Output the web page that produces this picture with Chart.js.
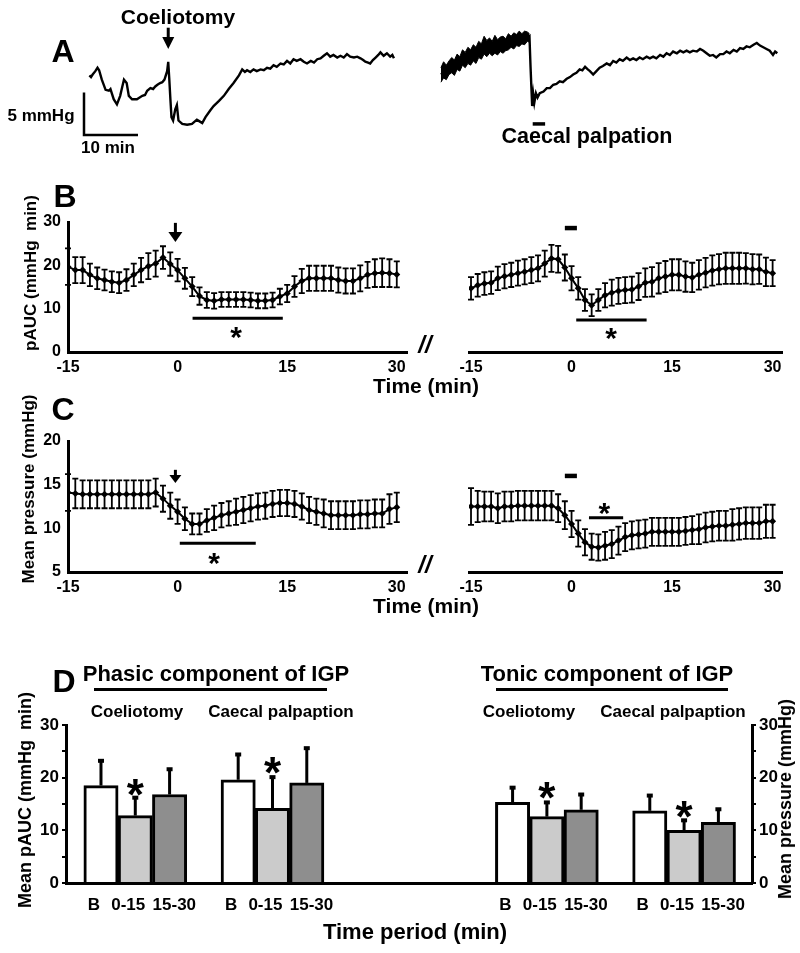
<!DOCTYPE html>
<html>
<head>
<meta charset="utf-8">
<script src="https://cdn.jsdelivr.net/npm/chart.js@4.4.1/dist/chart.umd.min.js"></script>
<style>
  body { margin:0; width:800px; height:953px; position:relative; overflow:hidden; background:#fff;
         font-family:"Liberation Sans", Arial, sans-serif; font-weight:bold; color:#000; }
  canvas { position:absolute; }
  .t { position:absolute; white-space:pre; line-height:1; transform:translate(-50%,-50%); }
  .r { position:absolute; white-space:pre; line-height:1; transform:translate(-50%,-50%) rotate(-90deg); }
  .u { position:absolute; height:3px; background:#000; }
</style>
</head>
<body>

<canvas id="cA"  width="800" height="160" style="left:0;top:0"></canvas>
<canvas id="cBL" width="415" height="230" style="left:0;top:170px"></canvas>
<canvas id="cBR" width="385" height="230" style="left:415px;top:170px"></canvas>
<canvas id="cCL" width="415" height="210" style="left:0;top:400px"></canvas>
<canvas id="cCR" width="385" height="210" style="left:415px;top:400px"></canvas>
<canvas id="cD"  width="800" height="353" style="left:0;top:600px"></canvas>

<!-- panel A -->
<div class="t" style="left:63px;top:51px;font-size:32px">A</div>
<div class="t" style="left:178px;top:16px;font-size:21px">Coeliotomy</div>
<div class="t" style="left:41px;top:115px;font-size:17px">5 mmHg</div>
<div class="t" style="left:108px;top:147px;font-size:17px">10 min</div>
<div class="t" style="left:587px;top:137px;font-size:21.5px">Caecal palpation</div>

<!-- panel B -->
<div class="t" style="left:65px;top:196px;font-size:32px">B</div>
<div class="r" style="left:30px;top:273px;font-size:17px">pAUC (mmHg  min)</div>
<div class="t" style="left:426px;top:385px;font-size:21px">Time (min)</div>
<div class="t" style="left:425px;top:345px;font-size:24px;font-style:italic">//</div>

<!-- panel C -->
<div class="t" style="left:63px;top:409px;font-size:32px">C</div>
<div class="r" style="left:28px;top:489px;font-size:17px">Mean pressure (mmHg)</div>
<div class="t" style="left:426px;top:605px;font-size:21px">Time (min)</div>
<div class="t" style="left:425px;top:565px;font-size:24px;font-style:italic">//</div>

<!-- panel D -->
<div class="t" style="left:64px;top:681px;font-size:32px">D</div>
<div class="t" style="left:216px;top:674px;font-size:22px">Phasic component of IGP</div>
<div class="t" style="left:607px;top:674px;font-size:22px">Tonic component of IGP</div>
<div class="u" style="left:94px;top:688px;width:233px"></div>
<div class="u" style="left:496px;top:688px;width:232px"></div>
<div class="t" style="left:137px;top:711px;font-size:17px">Coeliotomy</div>
<div class="t" style="left:281px;top:711px;font-size:17px">Caecal palpaption</div>
<div class="t" style="left:529px;top:711px;font-size:17px">Coeliotomy</div>
<div class="t" style="left:673px;top:711px;font-size:17px">Caecal palpaption</div>
<div class="r" style="left:25px;top:800px;font-size:18px">Mean pAUC (mmHg  min)</div>
<div class="r" style="left:785px;top:799px;font-size:18px">Mean pressure (mmHg)</div>
<div class="t" style="left:415px;top:932px;font-size:22px">Time period (min)</div>

<script>
// ---- A: raw intragastric pressure traces (time in min, pressure in mmHg above trace floor)
var traceCoelT = [0.0,0.3,0.6,1.1,1.5,1.8,2.3,3.0,3.6,3.9,4.5,5.1,5.7,6.1,6.4,6.9,7.3,7.9,8.8,9.8,10.3,10.7,11.3,11.8,12.2,12.6,13.1,13.5,13.9,14.4,14.6,14.8,15.0,15.2,15.5,15.9,16.2,16.5,17.2,18.1,19.0,19.9,20.4,20.9,21.5,22.4,23.0,24.0,24.9,25.8,26.7,27.7,28.3,28.8,29.2,29.8,30.4,31.0,31.7,32.3,32.9,33.5,34.1,34.7,35.4,36.0,36.6,37.2,37.8,38.4,39.1,39.7,40.3,41.0,41.6,42.2,42.8,43.4,44.0,44.6,45.2,45.9,46.5,47.1,47.7,48.3,49.0,49.6,50.2,50.7,51.1,51.6,52.0,52.5,53.0,53.5,53.9,54.5,55.1,55.7,56.1,56.4];
var traceCoelP = [7.0,6.8,7.1,7.5,7.9,7.6,6.5,5.3,5.2,5.4,4.2,3.6,4.6,5.7,6.5,6.1,4.6,4.2,4.2,4.6,4.7,5.2,5.5,5.4,5.7,5.9,6.1,6.2,6.5,7.5,8.6,6.5,4.2,2.1,1.7,3.0,3.5,1.7,1.3,1.2,1.3,1.8,1.6,1.4,2.1,2.9,3.4,4.0,4.6,5.4,6.1,7.0,7.7,7.4,7.6,7.4,7.7,7.5,7.7,7.6,7.9,7.8,8.2,8.0,8.4,8.3,8.7,8.4,8.9,8.7,8.9,8.6,8.4,8.7,8.5,8.9,9.0,9.3,9.6,9.2,9.4,9.1,9.3,9.1,9.5,9.2,9.1,9.2,9.0,8.8,8.6,8.5,8.4,8.8,9.1,9.4,9.7,9.3,9.6,9.2,9.4,9.0];
// noisy pre-palpation stretch of the second trace: upper and lower edges of the band
var caecBandT  = [0,0.5,1,1.5,2,2.5,3,3.5,4,4.5,5,5.5,6,6.5,7,7.5,8,8.5,9,9.5,10,10.5,11,11.5,12,12.5,13,13.5,14,14.5,15,15.5,16,16.4];
var caecBandHi = [7.9,8.6,8.2,8.7,9.1,8.8,9.5,9.2,10.0,9.7,10.3,10.0,10.6,10.3,11.0,10.7,11.6,11.1,11.4,11.0,11.7,11.2,11.5,11.6,11.3,11.9,11.6,12.0,11.8,12.2,11.9,12.2,12.1,11.9];
var caecBandLo = [6.2,6.7,6.5,7.1,7.3,7.0,7.7,7.5,8.2,7.9,8.4,8.2,8.7,8.4,9.1,8.9,9.5,9.2,9.6,9.3,9.6,9.4,9.8,9.6,9.9,10.0,10.3,10.1,10.5,10.4,10.7,10.6,11.0,10.9];
var traceCaecT = [0.0,2.0,4.0,6.0,8.0,10.0,12.0,14.0,16.0,16.4,16.6,16.9,17.1,17.3,17.6,17.9,18.3,19.0,19.6,20.2,20.8,21.4,22.0,22.6,23.3,23.9,24.5,25.1,25.7,26.2,26.7,27.2,27.6,28.2,28.8,29.4,30.0,30.7,31.3,31.9,32.5,33.1,33.7,34.4,35.0,35.6,36.2,36.8,37.4,38.1,38.7,39.3,39.9,40.6,41.2,41.8,42.4,43.0,43.7,44.3,44.9,45.5,46.1,46.7,47.4,48.0,48.6,49.2,49.8,50.4,51.0,51.7,52.3,52.9,53.5,54.2,54.8,55.4,56.0,56.6,57.2,57.9,58.5,59.1,59.7,60.3,60.9,61.5,61.9,62.3];
var traceCaecP = [7.1,8.0,8.9,9.6,10.4,10.5,10.7,11.1,11.4,11.6,8.0,3.4,4.8,3.8,4.9,4.4,4.9,5.1,5.5,5.5,5.9,6.0,6.3,6.2,6.6,6.8,7.1,7.3,7.7,7.6,8.0,7.7,7.5,7.1,7.5,7.9,8.1,8.4,8.2,8.7,8.5,8.9,8.7,9.1,8.8,9.0,8.8,9.1,8.9,9.2,9.0,9.2,9.0,9.4,9.2,9.6,9.4,9.8,9.6,9.9,9.7,9.9,9.7,9.9,9.8,10.1,9.9,9.6,9.3,9.4,9.1,9.5,9.5,9.8,9.6,10.0,9.8,10.2,10.1,10.4,10.3,10.6,10.8,10.5,10.3,10.1,9.9,9.4,9.8,9.6];
var scaleBarT = [-1, -1, 9];   // 10 min
var scaleBarP = [5, 0, 0];     // 5 mmHg

// ---- B and C: 1-min means with SEM
var minutes = [-15,-14,-13,-12,-11,-10,-9,-8,-7,-6,-5,-4,-3,-2,-1,0,1,2,3,4,5,6,7,8,9,10,11,12,13,14,15,16,17,18,19,20,21,22,23,24,25,26,27,28,29,30];
var timeTicks = [-15, 0, 15, 30];

var pAUCCoel    = [19.7,18.9,18.9,17.8,17.0,16.6,16.2,16.0,16.6,17.8,18.9,19.8,20.4,21.8,20.3,18.9,17.0,15.1,12.9,12.0,11.8,12.1,12.1,12.1,12.1,12.0,11.8,11.8,12.0,12.8,13.5,15.1,16.4,17.0,17.0,17.0,17.0,16.6,16.4,16.4,17.0,17.8,18.2,18.3,18.2,17.9];
var pAUCCoelSem = [4.2,3.0,3.0,2.6,2.5,2.4,2.4,2.4,2.5,2.6,2.8,3.0,3.0,2.6,2.7,2.6,2.4,2.2,2.0,1.8,1.8,1.7,1.7,1.7,1.7,1.7,1.7,1.7,1.7,1.8,2.0,2.4,2.8,2.9,2.9,2.9,2.9,2.9,2.9,2.9,3.0,3.0,3.2,3.3,3.2,3.0];
var pAUCCaec    = [14.7,15.4,15.8,16.0,17.0,17.5,17.8,18.2,18.5,18.9,19.3,20.4,21.6,21.4,19.5,17.0,14.7,12.0,10.8,12.0,13.1,13.7,14.1,14.3,14.4,15.1,16.0,16.2,17.0,17.4,17.8,17.8,17.4,17.2,17.8,18.3,18.8,19.1,19.3,19.3,19.3,19.3,19.1,19.1,18.5,18.2];
var pAUCCaecSem = [2.6,2.6,2.6,2.6,2.7,2.8,2.8,2.9,2.9,3.0,3.0,3.0,3.1,3.1,3.0,2.8,2.6,2.5,2.5,2.5,2.8,3.0,3.0,3.0,3.0,3.1,3.3,3.4,3.5,3.6,3.6,3.6,3.5,3.4,3.4,3.4,3.5,3.5,3.6,3.6,3.6,3.5,3.5,3.4,3.3,3.0];

var mpCoel    = [14.1,14.0,13.9,13.9,13.9,13.9,13.9,13.9,13.9,13.9,13.9,13.9,14.1,13.4,12.6,11.9,11.1,10.5,10.5,10.9,11.2,11.5,11.7,11.9,12.1,12.3,12.5,12.6,12.8,12.9,12.9,12.8,12.5,12.1,11.9,11.7,11.5,11.5,11.5,11.5,11.6,11.6,11.7,11.7,12.2,12.4];
var mpCoelSem = [2.1,1.7,1.6,1.6,1.6,1.6,1.6,1.6,1.6,1.6,1.6,1.6,1.6,1.5,1.5,1.4,1.3,1.2,1.2,1.3,1.4,1.4,1.4,1.5,1.5,1.5,1.5,1.5,1.5,1.5,1.5,1.5,1.5,1.5,1.5,1.6,1.6,1.6,1.6,1.6,1.6,1.6,1.6,1.6,1.7,1.7];
var mpCaec    = [12.5,12.5,12.5,12.5,12.3,12.5,12.5,12.6,12.6,12.6,12.6,12.6,12.6,12.3,11.5,10.5,9.4,8.4,7.9,7.8,8.0,8.2,8.6,9.0,9.2,9.3,9.4,9.6,9.6,9.6,9.6,9.6,9.7,9.8,9.9,10.1,10.2,10.3,10.3,10.4,10.5,10.6,10.6,10.6,10.8,10.8];
var mpCaecSem = [2.1,1.8,1.7,1.7,1.7,1.7,1.7,1.7,1.7,1.7,1.7,1.7,1.7,1.6,1.6,1.5,1.5,1.5,1.5,1.5,1.6,1.6,1.6,1.6,1.6,1.6,1.6,1.6,1.6,1.6,1.6,1.6,1.6,1.6,1.7,1.7,1.7,1.7,1.7,1.8,1.8,1.8,1.8,1.8,1.9,1.9];

// ---- D: period means (+SD)
var periodLabels = ['B', '0-15', '15-30', 'B', '0-15', '15-30'];
var phasicPos    = [0, 1, 2, 4, 5, 6];
var tonicPos     = [12, 13, 14, 16, 17, 18];
var phasicMean   = [18.5, 12.8, 16.8, 19.6, 14.2, 19.0];
var phasicSd     = [4.7, 3.4, 4.8, 4.8, 5.9, 6.6];
var tonicMean    = [15.3, 12.6, 13.9, 13.7, 10.0, 11.5];
var tonicSd      = [2.8, 2.7, 2.9, 2.9, 1.9, 2.5];
var periodFill   = ['#ffffff', '#cbcbcb', '#8e8e8e', '#ffffff', '#cbcbcb', '#8e8e8e'];

Chart.defaults.font.family = '"Liberation Sans", Arial, sans-serif';
Chart.defaults.font.weight = 'bold';
Chart.defaults.color = '#000';
Chart.defaults.animation = false;

function pairs(xs, ys) {
  return xs.map(function (x, i) { return {x: x, y: ys[i]}; });
}

// error bars from each dataset's "errors" array
var errorBars = {
  id: 'errorBars',
  afterDatasetsDraw: function (chart) {
    var ctx = chart.ctx;
    chart.data.datasets.forEach(function (ds, i) {
      if (!ds.errors) return;
      var meta = chart.getDatasetMeta(i);
      var ys = chart.scales[meta.yAxisID];
      ctx.save();
      ctx.strokeStyle = '#000';
      meta.data.forEach(function (el, j) {
        var v = ds.data[j].y, e = ds.errors[j];
        var top = ys.getPixelForValue(v + e);
        var bot = ds.upOnly ? el.y : ys.getPixelForValue(v - e);
        var cap = ds.capHalf || 3;
        ctx.lineWidth = ds.errorWidth || 1.8;
        ctx.beginPath();
        ctx.moveTo(el.x, top); ctx.lineTo(el.x, bot);
        ctx.stroke();
        ctx.lineWidth = ds.capWidth || 1.8;
        ctx.beginPath();
        ctx.moveTo(el.x - cap, top); ctx.lineTo(el.x + cap, top);
        if (!ds.upOnly) { ctx.moveTo(el.x - cap, bot); ctx.lineTo(el.x + cap, bot); }
        ctx.stroke();
      });
      ctx.restore();
    });
  }
};

// arrows, significance bars and asterisks, placed in data units
var marks = {
  id: 'marks',
  afterDraw: function (chart, args, opts) {
    var ctx = chart.ctx;
    (opts.items || []).forEach(function (m) {
      var xs = chart.scales[m.xAxis || 'x'], ys = chart.scales[m.yAxis || 'y'];
      ctx.save();
      ctx.fillStyle = '#000'; ctx.strokeStyle = '#000';
      if (m.type === 'line') {
        var y = ys.getPixelForValue(m.y);
        ctx.lineWidth = m.w || 3;
        ctx.beginPath();
        ctx.moveTo(xs.getPixelForValue(m.x1), y);
        ctx.lineTo(xs.getPixelForValue(m.x2), y);
        ctx.stroke();
      } else if (m.type === 'arrow') {
        var x = xs.getPixelForValue(m.x), y1 = ys.getPixelForValue(m.y1), y2 = ys.getPixelForValue(m.y2);
        var hh = m.head || 10, hw = m.hw || 6;
        ctx.lineWidth = 3;
        ctx.beginPath(); ctx.moveTo(x, y1); ctx.lineTo(x, y2 - hh + 1); ctx.stroke();
        ctx.beginPath(); ctx.moveTo(x - hw, y2 - hh); ctx.lineTo(x + hw, y2 - hh); ctx.lineTo(x, y2); ctx.closePath(); ctx.fill();
      } else if (m.type === 'star') {
        var s = m.size || 30;
        ctx.font = 'bold ' + s + 'px "Liberation Sans", Arial, sans-serif';
        ctx.textAlign = 'center'; ctx.textBaseline = 'alphabetic';
        ctx.fillText('*', xs.getPixelForValue(m.x), ys.getPixelForValue(m.y) + 0.57 * s);
      }
      ctx.restore();
    });
  }
};

// ---- A
function traceSet(xs, ys, axis, width) {
  return {data: pairs(xs, ys), xAxisID: axis, borderColor: '#000', borderWidth: width,
          pointRadius: 0, tension: 0, clip: false, fill: false};
}
var bandLo = traceSet(caecBandT, caecBandLo, 'xr', 1);
var bandHi = traceSet(caecBandT, caecBandHi, 'xr', 1);
bandHi.fill = '-1';
bandHi.backgroundColor = '#000';

new Chart(document.getElementById('cA'), {
  type: 'line',
  data: {
    datasets: [
      traceSet(traceCoelT, traceCoelP, 'xl', 2.4),
      bandLo,
      bandHi,
      traceSet(traceCaecT, traceCaecP, 'xr', 2.4),
      traceSet(scaleBarT, scaleBarP, 'xl', 2.5)
    ]
  },
  options: {
    responsive: false,
    layout: {padding: {left: 84, right: 20, top: 26, bottom: 25}},
    plugins: {
      legend: {display: false}, tooltip: {enabled: false}, filler: {propagate: false},
      marks: {items: [
        {type: 'arrow', xAxis: 'xl', x: 14.6, y1: 12.6, y2: 10.1, head: 12, hw: 6},
        {type: 'line', xAxis: 'xr', x1: 17.0, x2: 19.3, y: 1.3, w: 3.5}
      ]}
    },
    scales: {
      xl: {type: 'linear', display: false, min: -1, max: 127.9},
      xr: {type: 'linear', display: false, min: -66.1, max: 62.8},
      y: {display: false, min: 0, max: 12.8}
    }
  },
  plugins: [marks]
});

// ---- B and C
function timeChart(id, vals, errs, o) {
  new Chart(document.getElementById(id), {
    type: 'line',
    data: {datasets: [{
      data: pairs(minutes, vals), errors: errs,
      borderColor: '#000', borderWidth: 2, tension: 0,
      pointStyle: 'rectRot', pointRadius: 3.5, pointBackgroundColor: '#000', pointBorderColor: '#000', pointBorderWidth: 0
    }]},
    options: {
      responsive: false,
      layout: {padding: {top: o.top, left: o.showY ? 0 : o.left, right: o.right, bottom: 0}},
      plugins: {legend: {display: false}, tooltip: {enabled: false}, marks: {items: o.marks}},
      scales: {
        x: {
          type: 'linear', min: o.xmin, max: o.xmax,
          afterBuildTicks: function (s) { s.ticks = timeTicks.map(function (v) { return {value: v}; }); },
          afterFit: function (s) { s.height = o.xh; },
          grid: {display: false, drawTicks: false},
          border: {display: true, width: 3, color: '#000'},
          ticks: {font: {size: 16, weight: 'bold'}, padding: 6, maxRotation: 0, autoSkip: false}
        },
        y: {
          display: o.showY, min: o.ymin, max: o.ymax,
          afterBuildTicks: function (s) { s.ticks = o.yticks.map(function (v) { return {value: v}; }); },
          afterFit: function (s) { s.width = o.left; },
          grid: {display: false, drawTicks: false},
          border: {display: true, width: 3, color: '#000'},
          ticks: {font: {size: 16, weight: 'bold'}, padding: 7}
        }
      }
    },
    plugins: [errorBars, marks]
  });
}

timeChart('cBL', pAUCCoel, pAUCCoelSem, {
  showY: true, left: 68, right: 8, top: 52, xh: 48, xmin: -15, xmax: 31.4, ymin: 0, ymax: 30, yticks: [0, 10, 20, 30],
  marks: [
    {type: 'arrow', x: -0.3, y1: 29.8, y2: 25.4, head: 10, hw: 7},
    {type: 'line', x1: 2.05, x2: 14.4, y: 7.8},
    {type: 'star', x: 8.0, y: 5.0, size: 30}
  ]
});
timeChart('cBR', pAUCCaec, pAUCCaecSem, {
  showY: false, left: 27, right: 18, top: 52, xh: 48, xmin: -15.3, xmax: 31.4, ymin: 0, ymax: 30, yticks: [0, 10, 20, 30],
  marks: [
    {type: 'line', x1: -1.0, x2: 0.8, y: 28.6, w: 4.5},
    {type: 'line', x1: 0.7, x2: 11.2, y: 7.4},
    {type: 'star', x: 5.9, y: 4.8, size: 30}
  ]
});
timeChart('cCL', mpCoel, mpCoelSem, {
  showY: true, left: 68, right: 8, top: 41, xh: 38, xmin: -15, xmax: 31.4, ymin: 5, ymax: 20, yticks: [5, 10, 15, 20],
  marks: [
    {type: 'arrow', x: -0.3, y1: 16.7, y2: 15.2, head: 8, hw: 6},
    {type: 'line', x1: 0.3, x2: 10.7, y: 8.3},
    {type: 'star', x: 5.0, y: 6.9, size: 30}
  ]
});
timeChart('cCR', mpCaec, mpCaecSem, {
  showY: false, left: 27, right: 18, top: 41, xh: 38, xmin: -15.3, xmax: 31.4, ymin: 5, ymax: 20, yticks: [5, 10, 15, 20],
  marks: [
    {type: 'line', x1: -1.0, x2: 0.8, y: 16.0, w: 4.5},
    {type: 'line', x1: 2.6, x2: 7.7, y: 11.2},
    {type: 'star', x: 4.9, y: 12.6, size: 30}
  ]
});

// ---- D
var allPos = phasicPos.concat(tonicPos);
var allLabels = periodLabels.concat(periodLabels);
function padLabel(l) {
  // the original sets the three period labels as one spaced text line
  if (l === 'B') return 'B   ';
  if (l === '0-15') return '0-15   ';
  return '  15-30';
}
function yBarAxis(pos, width) {
  return {
    position: pos, min: 0, max: 30,
    afterBuildTicks: function (s) { s.ticks = [0, 5, 10, 15, 20, 25, 30].map(function (v) { return {value: v}; }); },
    afterFit: function (s) { s.width = width; },
    grid: {display: true, drawOnChartArea: false, drawTicks: true, tickLength: 4, color: '#000', lineWidth: 2},
    border: {display: true, width: 3, color: '#000'},
    ticks: {font: {size: 17, weight: 'bold'}, padding: 3, callback: function (v) { return v % 10 === 0 ? v : ''; }}
  };
}
new Chart(document.getElementById('cD'), {
  type: 'bar',
  data: {datasets: [
    {data: pairs(phasicPos, phasicMean), errors: phasicSd, upOnly: true, yAxisID: 'y',
     backgroundColor: periodFill, borderColor: '#000', borderWidth: 3, errorWidth: 3, capWidth: 4, capHalf: 3},
    {data: pairs(tonicPos, tonicMean), errors: tonicSd, upOnly: true, yAxisID: 'y2',
     backgroundColor: periodFill, borderColor: '#000', borderWidth: 3, errorWidth: 3, capWidth: 4, capHalf: 3}
  ]},
  options: {
    responsive: false,
    grouped: false,
    barPercentage: 1, categoryPercentage: 1,
    layout: {padding: {top: 125, left: 0, right: 0, bottom: 0}},
    plugins: {
      legend: {display: false}, tooltip: {enabled: false},
      marks: {items: [
        {type: 'star', x: 1, y: 18.7, size: 44},
        {type: 'star', x: 5, y: 22.8, size: 44},
        {type: 'star', x: 13, y: 18.1, size: 44, yAxis: 'y2'},
        {type: 'star', x: 17, y: 14.4, size: 44, yAxis: 'y2'}
      ]}
    },
    scales: {
      x: {
        type: 'linear', min: -1.02, max: 18.98, offset: false,
        afterBuildTicks: function (s) { s.ticks = allPos.map(function (v) { return {value: v}; }); },
        afterFit: function (s) { s.height = 70; },
        grid: {display: false, drawTicks: false},
        border: {display: true, width: 3, color: '#000'},
        ticks: {font: {size: 17, weight: 'bold'}, padding: 12, maxRotation: 0, autoSkip: false,
                callback: function (v, i) { return padLabel(allLabels[i]); }}
      },
      y: yBarAxis('left', 66),
      y2: yBarAxis('right', 48)
    }
  },
  plugins: [errorBars, marks]
});
</script>
</body>
</html>
